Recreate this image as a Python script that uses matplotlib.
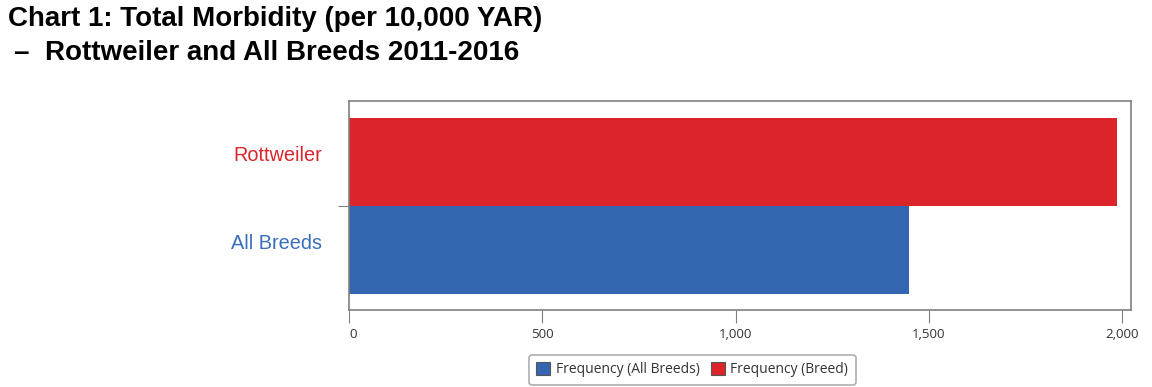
import matplotlib.pyplot as plt
from matplotlib.patches import Patch

categories = ["All Breeds", "Rottweiler"]
values = [1448, 1987]
bar_colors = ["#3465b1", "#dc252b"]
label_colors = ["#3a6dbf", "#d9262c"]
xticks = [0, 500, 1000, 1500, 2000]
xtick_labels = ["0", "500", "1,000", "1,500", "2,000"]
legend_labels = ["Frequency (All Breeds)", "Frequency (Breed)"]

plt.rcParams['font.family'] = ['Liberation Sans', 'DejaVu Sans']

fig = plt.figure(figsize=(11.52, 3.87), dpi=100)
ax = fig.add_axes([0.303, 0.199, 0.679, 0.539])

ypos = list(range(len(categories)))
ax.barh(ypos, values, height=1.0, color=bar_colors, edgecolor="none")

ax.set_xlim(0, 2023)
ax.set_ylim(-0.68, 1.69)
ax.set_xticks(xticks)
ax.set_xticklabels(xtick_labels, fontsize=9.5, color="#333333", family=["Open Sans", "DejaVu Sans"])
ax.tick_params(axis="x", length=9, color="#808080", pad=4)
# first label sits a bit right of its tick, like the original
ax.get_xticklabels()[0].set_horizontalalignment("left")

ax.set_yticks([0.5])
ax.set_yticklabels([""])
ax.tick_params(axis="y", length=8, color="#808080")
for y, name, c in zip(ypos, categories, label_colors):
    ax.text(-0.035, y + 0.07, name, transform=ax.get_yaxis_transform(),
            ha="right", va="center", fontsize=14.3, color=c)

for s in ax.spines.values():
    s.set_color("#808080")
    s.set_linewidth(1.2)

fig.text(0.007, 0.950, "Chart 1: Total Morbidity (per 10,000 YAR)", fontsize=20,
         fontweight="bold", ha="left", va="center")
fig.text(0.012, 0.862, "–  Rottweiler and All Breeds 2011-2016", fontsize=20,
         fontweight="bold", ha="left", va="center")

handles = [Patch(facecolor=c, edgecolor="#555555", linewidth=0.8) for c in bar_colors]
leg = fig.legend(handles, legend_labels, loc="center", bbox_to_anchor=(0.601, 0.044),
                 ncol=2, frameon=True, fancybox=True,
                 handlelength=1.0, handleheight=1.0, handletextpad=0.4,
                 columnspacing=0.8, borderpad=0.55,
                 prop={"family": ["Open Sans", "DejaVu Sans"], "size": 10})
leg.get_frame().set_edgecolor("#999999")
leg.get_frame().set_linewidth(1.2)
for t in leg.get_texts():
    t.set_color("#333333")

fig.savefig("out.png", dpi=100)
